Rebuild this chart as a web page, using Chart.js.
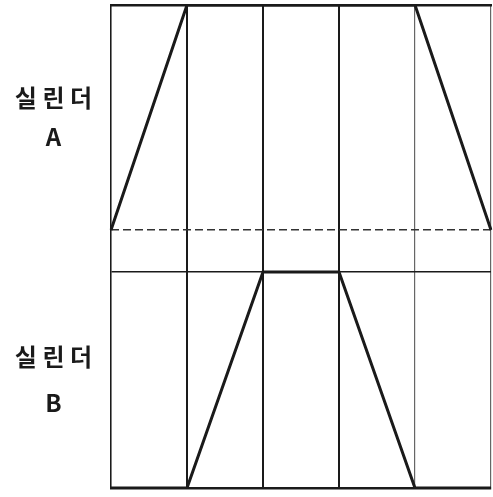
<!DOCTYPE html>
<html>
<head>
<meta charset="utf-8">
<script src="https://cdn.jsdelivr.net/npm/chart.js@4/dist/chart.umd.min.js"></script>
<style>
  html, body { margin: 0; padding: 0; background: #fff; }
  canvas { display: block; }
</style>
</head>
<body>
<canvas id="chart" width="493" height="497"></canvas>
<script>
// pasos del diagrama (columnas)
const steps = ['1', '2', '3', '4', '5', '6'];

// desplazamiento de cada cilindro: 0 = atrás, 1 = adelante
const cylinderA = [0, 1, 1, 1, 1, 0];
const cylinderB = [0, 0, 1, 1, 0, 0];

// etiquetas de las filas
const labelA = ['실 린 더', 'A'];
const labelB = ['실 린 더', 'B'];

const ink = '#1a1a1a';

// rangos de los ejes: cada cilindro ocupa su franja del área del gráfico
const rangoA = [-1.147, 1];
const rangoB = [0, 2.236];

// centro de la franja B expresado en unidades del eje A (para poner su etiqueta)
const medioB = rangoA[0] + (0.5 - rangoB[0]) / (rangoB[1] - rangoB[0]) * (rangoA[1] - rangoA[0]);

const ctx = document.getElementById('chart').getContext('2d');

new Chart(ctx, {
  type: 'line',
  data: {
    labels: steps,
    datasets: [
      { label: 'A', data: cylinderA, yAxisID: 'yA', borderColor: ink, borderWidth: 3, pointRadius: 0, tension: 0, fill: false },
      { label: 'B', data: cylinderB, yAxisID: 'yB', borderColor: ink, borderWidth: 3, pointRadius: 0, tension: 0, fill: false }
    ]
  },
  options: {
    responsive: false,
    animation: false,
    layout: { padding: { top: 5, right: 2, bottom: 9, left: 0 } },
    plugins: { legend: { display: false }, tooltip: { enabled: false } },
    scales: {
      x: {
        type: 'category',
        offset: false,
        afterFit: (s) => { s.height = 0; },
        grid: {
          offset: false,
          drawTicks: false,
          color: (c) => (c.index >= 1 && c.index <= 3) ? ink : '#666',
          lineWidth: (c) => (c.index >= 1 && c.index <= 3) ? 2 : 1.2
        },
        border: { display: true, color: ink, width: 2.5 },
        ticks: { display: false }
      },
      xTop: {
        type: 'category',
        position: 'top',
        offset: false,
        afterFit: (s) => { s.height = 0; },
        grid: { drawOnChartArea: false, drawTicks: false },
        border: { display: true, color: ink, width: 2.5 },
        ticks: { display: false }
      },
      // eje de A: lleva la columna de etiquetas de las dos filas
      yA: {
        type: 'linear',
        position: 'left',
        weight: 1,
        min: rangoA[0],
        max: rangoA[1],
        afterBuildTicks: (s) => { s.ticks = [{ value: 0 }, { value: 0.5 }, { value: 1 }, { value: medioB }]; },
        afterFit: (s) => { s.width = 111; s.paddingTop = 0; s.paddingBottom = 0; },
        grid: {
          drawTicks: false,
          lineWidth: 1.5,
          color: (c) => (c.tick && (c.tick.value === 0 || c.tick.value === 1)) ? '#333' : 'rgba(0,0,0,0)'
        },
        border: { display: false, dash: [8, 4] },
        ticks: {
          autoSkip: false,
          crossAlign: 'center',
          padding: 19,
          color: ink,
          font: (c) => ({
            family: "'Noto Sans CJK KR'", size: 24, weight: 'bold',
            lineHeight: (c.tick && c.tick.value === medioB) ? 1.9 : 1.6
          }),
          callback: (v) => v === 0.5 ? labelA : (v === medioB ? labelB : '')
        }
      },
      // eje de B: solo sus líneas de referencia
      yB: {
        type: 'linear',
        position: 'left',
        weight: 0,
        min: rangoB[0],
        max: rangoB[1],
        afterBuildTicks: (s) => { s.ticks = [{ value: 0 }, { value: 1 }]; },
        afterFit: (s) => { s.width = 0; s.paddingTop = 0; s.paddingBottom = 0; },
        grid: { drawTicks: false, lineWidth: 1.5, color: ink },
        border: { display: true, color: ink, width: 1.5 },
        ticks: { display: false }
      }
    }
  }
});
</script>
</body>
</html>
